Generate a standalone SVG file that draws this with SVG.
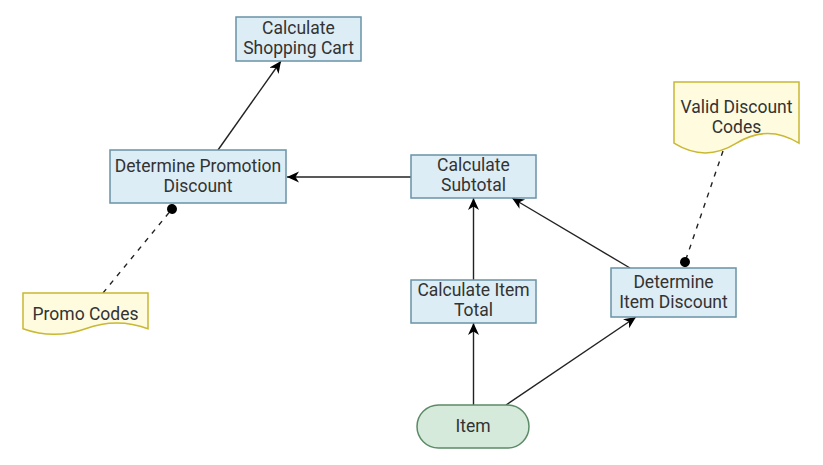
<svg xmlns="http://www.w3.org/2000/svg" width="823" height="465" viewBox="0 0 823 465">
<style>
.proc{fill:#ddedf5;stroke:#6a93a6;stroke-width:1.5}
.doc{fill:#fefbdf;stroke:#c9b832;stroke-width:1.5}
.term{fill:#d5eadb;stroke:#5b8a66;stroke-width:1.5}
text{font-family:Roboto,"Liberation Sans",sans-serif;font-size:17.5px;fill:#333333;text-anchor:middle}
.edge{fill:none;stroke:#222222;stroke-width:1.4}
.dash{fill:none;stroke:#222222;stroke-width:1.4;stroke-dasharray:5 6}
</style>
<defs>
<marker id="arrow" markerUnits="userSpaceOnUse" markerWidth="13" markerHeight="13" refX="12" refY="5.5" orient="auto">
<path d="M0,0 L12,5.5 L0,11 L3.5,5.5 Z" fill="#000000"/>
</marker>
<marker id="dot" markerUnits="userSpaceOnUse" markerWidth="12" markerHeight="12" refX="6" refY="6" orient="auto">
<circle cx="6" cy="6" r="5" fill="#000000"/>
</marker>
</defs>
<g id="connectors">
<path class="edge" d="M218,150 L281,61" marker-end="url(#arrow)"/>
<path class="edge" d="M411,177 L287,177" marker-end="url(#arrow)"/>
<path class="edge" d="M473.5,280 L473.5,198" marker-end="url(#arrow)"/>
<path class="edge" d="M630,268 L512,198" marker-end="url(#arrow)"/>
<path class="edge" d="M473.5,405 L473.5,323" marker-end="url(#arrow)"/>
<path class="edge" d="M506,405 L636,317" marker-end="url(#arrow)"/>
<path class="dash" d="M723,151 L685,262" marker-end="url(#dot)"/>
<path class="dash" d="M103,293 L172,209" marker-end="url(#dot)"/>
</g>
<g id="calc-shopping-cart">
<rect class="proc" x="236" y="17" width="125" height="44"/>
<text x="298.5" y="33.5">Calculate</text>
<text x="298.5" y="53.5">Shopping Cart</text>
</g>
<g id="determine-promotion-discount">
<rect class="proc" x="110" y="150" width="176" height="53"/>
<text x="198" y="171.5">Determine Promotion</text>
<text x="198" y="191.5">Discount</text>
</g>
<g id="calc-subtotal">
<rect class="proc" x="411" y="155" width="125" height="43"/>
<text x="473.5" y="171">Calculate</text>
<text x="473.5" y="191">Subtotal</text>
</g>
<g id="calc-item-total">
<rect class="proc" x="411" y="280" width="125" height="43"/>
<text x="473.5" y="296">Calculate Item</text>
<text x="473.5" y="316">Total</text>
</g>
<g id="determine-item-discount">
<rect class="proc" x="611" y="268" width="125" height="49"/>
<text x="673.5" y="287.5">Determine</text>
<text x="673.5" y="307.5">Item Discount</text>
</g>
<g id="valid-discount-codes">
<path class="doc" d="M674,82 H799 V143.2 Q767.75,123.76 736.5,143.2 Q705.25,162.64 674,143.2 Z"/>
<text x="736.5" y="112.5">Valid Discount</text>
<text x="736.5" y="133">Codes</text>
</g>
<g id="promo-codes">
<path class="doc" d="M23,293 H148 V328.7 Q116.75,317.36 85.5,328.7 Q54.25,340.04 23,328.7 Z"/>
<text x="85.5" y="319.5">Promo Codes</text>
</g>
<g id="item">
<rect class="term" x="417" y="405" width="112" height="43" rx="21.5" ry="21.5"/>
<text x="473" y="431.5">Item</text>
</g>
</svg>
